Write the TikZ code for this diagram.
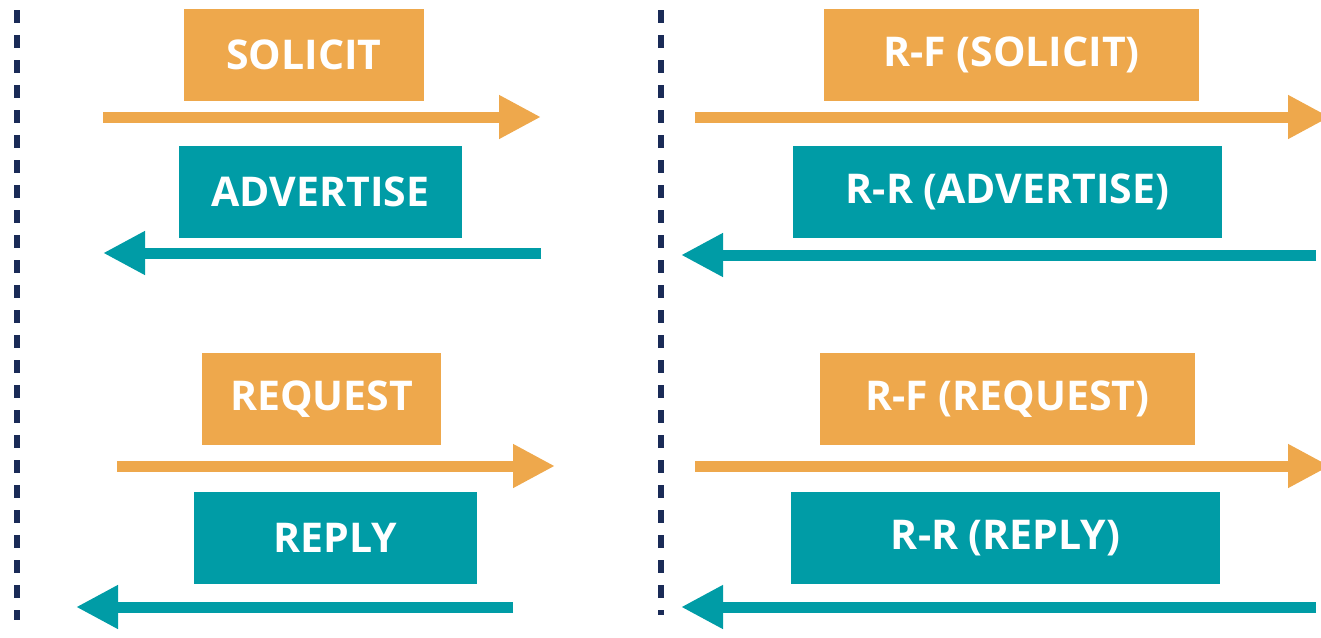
\documentclass[tikz,border=0pt]{standalone}
\usepackage{fontspec}
\setmainfont{Open Sans}
\usetikzlibrary{arrows.meta}
\definecolor{msgorange}{HTML}{EEA84C}
\definecolor{msgteal}{HTML}{009CA6}
\definecolor{linenavy}{HTML}{1A2B57}
\begin{document}
\begin{tikzpicture}[x=1pt, y=-1pt,
    msg/.style={inner sep=0pt, text=white, font=\fontsize{41}{44}\selectfont\bfseries, minimum height=92pt},
    solbox/.style={msg, fill=msgorange},
    advbox/.style={msg, fill=msgteal},
    flow/.style={line width=11pt, -{Triangle[length=42pt, width=41pt]}},
    divider/.style={linenavy, line width=6pt, dash pattern=on 13pt off 12pt}]
    \useasboundingbox (0,0) rectangle (1321,637);
    % Dividers
    \coordinate (d1a) at (17,10);
    \coordinate (d1b) at (17,620);
    \coordinate (d2a) at (661,10);
    \coordinate (d2b) at (661,615);
    \draw[divider] (d1a) -- (d1b);
    \draw[divider] (d2a) -- (d2b);
    % Left column: messages
    \node[solbox, minimum width=240pt] (sol) at (304,55)  {SOLICIT};
    \node[advbox, minimum width=283pt] (adv) at (320.5,192) {ADVERTISE};
    \node[solbox, minimum width=239pt] (req) at (321.5,399) {REQUEST};
    \node[advbox, minimum width=283pt] (rep) at (335.5,538) {REPLY};
    % Left column: arrows
    \coordinate (a1s) at (103,117);  \coordinate (a1e) at (541,117);
    \coordinate (a2s) at (541,253);  \coordinate (a2e) at (103,253);
    \coordinate (a3s) at (117,466);  \coordinate (a3e) at (555,466);
    \coordinate (a4s) at (513,607);  \coordinate (a4e) at (76,607);
    \draw[flow, msgorange] (a1s) -- (a1e);
    \draw[flow, msgteal]   (a2s) -- (a2e);
    \draw[flow, msgorange] (a3s) -- (a3e);
    \draw[flow, msgteal]   (a4s) -- (a4e);
    % Right column: relayed messages
    \node[solbox, minimum width=375pt] (rfsol) at (1011.5,55)  {R-F (SOLICIT)};
    \node[advbox, minimum width=429pt] (rradv) at (1007.5,192) {R-R (ADVERTISE)};
    \node[solbox, minimum width=375pt] (rfreq) at (1007.5,399) {R-F (REQUEST)};
    \node[advbox, minimum width=429pt] (rrrep) at (1005.5,538) {R-R (REPLY)};
    % Right column: arrows
    \coordinate (b1s) at (695,117);  \coordinate (b1e) at (1330,117);
    \coordinate (b2s) at (1316,255); \coordinate (b2e) at (681,255);
    \coordinate (b3s) at (695,466);  \coordinate (b3e) at (1330,466);
    \coordinate (b4s) at (1316,607); \coordinate (b4e) at (681,607);
    \draw[flow, msgorange] (b1s) -- (b1e);
    \draw[flow, msgteal]   (b2s) -- (b2e);
    \draw[flow, msgorange] (b3s) -- (b3e);
    \draw[flow, msgteal]   (b4s) -- (b4e);
\end{tikzpicture}
\end{document}
